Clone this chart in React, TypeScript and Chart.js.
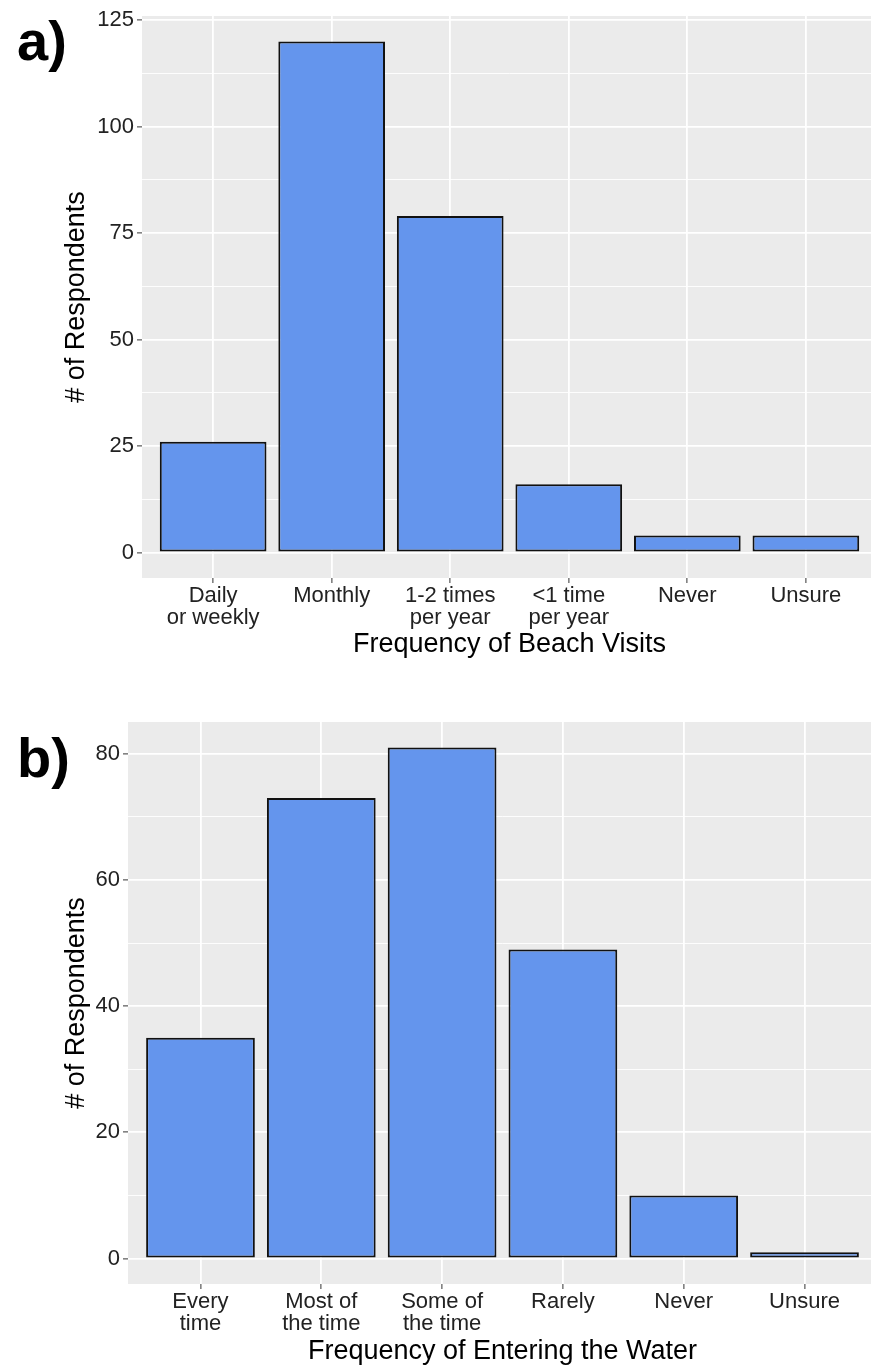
import React, { useEffect, useRef } from "react";
import { Chart, registerables } from "chart.js";

Chart.register(...registerables);

const FONT = '"Liberation Sans", Arial, Helvetica, sans-serif';

// ---- data: panel a ----
const beachCategories: string[][] = [
  ["Daily", "or weekly"],
  ["Monthly"],
  ["1-2 times", "per year"],
  ["<1 time", "per year"],
  ["Never"],
  ["Unsure"],
];
const beachCounts: number[] = [26, 120, 79, 16, 4, 4];
const beachYTicks: number[] = [0, 25, 50, 75, 100, 125];
const beachXTitle = "Frequency of Beach Visits";

// ---- data: panel b ----
const waterCategories: string[][] = [
  ["Every", "time"],
  ["Most of", "the time"],
  ["Some of", "the time"],
  ["Rarely"],
  ["Never"],
  ["Unsure"],
];
const waterCounts: number[] = [35, 73, 81, 49, 10, 1];
const waterYTicks: number[] = [0, 20, 40, 60, 80];
const waterXTitle = "Frequency of Entering the Water";

const yTitle = "# of Respondents";

const panelBg = {
  id: "panelBg",
  beforeDraw(chart: any) {
    const { ctx, chartArea: a } = chart;
    ctx.save();
    ctx.fillStyle = "#EBEBEB";
    ctx.fillRect(a.left, a.top, a.right - a.left, a.bottom - a.top);
    ctx.restore();
  },
};

const tagLabel = {
  id: "tagLabel",
  afterDraw(chart: any, _args: any, opts: any) {
    if (!opts || !opts.text) return;
    const { ctx } = chart;
    ctx.save();
    ctx.fillStyle = "#000";
    ctx.font = `bold ${opts.size}px ${FONT}`;
    ctx.textAlign = "left";
    ctx.textBaseline = "alphabetic";
    ctx.fillText(opts.text, opts.x, opts.y);
    ctx.restore();
  },
};

type Geom = {
  width: number;
  height: number;
  areaLeft: number;
  areaTop: number;
  areaBottom: number;
  areaRight: number;
  xTitlePad: number;
  tagY: number;
};

function Panel(props: {
  tag: string;
  categories: string[][];
  counts: number[];
  majorTicks: number[];
  xTitle: string;
  geom: Geom;
}) {
  const ref = useRef<HTMLCanvasElement | null>(null);
  const { tag, categories, counts, majorTicks, xTitle, geom } = props;

  useEffect(() => {
    if (!ref.current) return;
    const maxV = Math.max(...counts);
    const exp = maxV * 0.05;
    const minors: number[] = [];
    for (let i = 0; i < majorTicks.length - 1; i++) {
      minors.push((majorTicks[i] + majorTicks[i + 1]) / 2);
    }
    const isMajor = (v: number) => majorTicks.includes(v);
    const yAll = [...majorTicks, ...minors].sort((a, b) => a - b);
    const n = categories.length;

    const chart = new Chart(ref.current, {
      type: "bar",
      data: {
        datasets: [
          {
            data: counts.map((v, i) => ({ x: i, y: v })),
            backgroundColor: "#6495ED",
            borderColor: "#111111",
            borderWidth: 2,
            borderSkipped: false,
            barPercentage: 0.9,
            categoryPercentage: 1.0,
          },
        ],
      },
      options: {
        responsive: false,
        animation: false,
        devicePixelRatio: 1,
        layout: {
          padding: {
            top: geom.areaTop,
            right: geom.width - geom.areaRight,
            bottom: 0,
            left: 0,
          },
        },
        plugins: {
          legend: { display: false },
          tooltip: { enabled: false },
          tagLabel: { text: tag, x: 17, y: geom.tagY, size: 56 },
        } as any,
        scales: {
          x: {
            type: "linear",
            min: -0.6,
            max: n - 1 + 0.6,
            offset: false,
            afterBuildTicks: (s: any) => {
              s.ticks = categories.map((_, i) => ({ value: i }));
            },
            afterFit: (s: any) => {
              s.height = geom.height - geom.areaBottom;
            },
            ticks: {
              autoSkip: false,
              maxRotation: 0,
              minRotation: 0,
              padding: 1,
              color: "#222222",
              font: { family: FONT, size: 22, lineHeight: 1.04 },
              callback: (v: any) => categories[v] ?? "",
            },
            grid: {
              offset: false,
              color: "#FFFFFF",
              lineWidth: 1.8,
              drawTicks: true,
              tickLength: 5,
              tickColor: "#333333",
              tickWidth: 1,
            },
            border: { display: false },
            title: {
              display: true,
              text: xTitle,
              color: "#000",
              font: { family: FONT, size: 27, lineHeight: 1.2 },
              padding: { top: 0, bottom: geom.xTitlePad },
            },
          },
          y: {
            type: "linear",
            min: -exp,
            max: maxV + exp,
            afterBuildTicks: (s: any) => {
              s.ticks = yAll.map((v) => ({ value: v }));
            },
            afterFit: (s: any) => {
              s.width = geom.areaLeft;
            },
            ticks: {
              autoSkip: false,
              padding: 3,
              color: "#222222",
              font: { family: FONT, size: 22, lineHeight: 1.04 },
              callback: (v: any) => (isMajor(v) ? String(v) : ""),
            },
            grid: {
              color: "#FFFFFF",
              lineWidth: (c: any) => (isMajor(c.tick.value) ? 1.8 : 0.9),
              drawTicks: true,
              tickLength: 5,
              tickColor: (c: any) =>
                isMajor(c.tick.value) ? "#333333" : "rgba(0,0,0,0)",
              tickWidth: 1,
            },
            border: { display: false },
            title: {
              display: true,
              text: yTitle,
              color: "#000",
              font: { family: FONT, size: 27, lineHeight: 1.2 },
              padding: { top: 60, bottom: 0 },
            },
          },
        },
      },
      plugins: [panelBg, tagLabel],
    } as any);

    return () => chart.destroy();
  }, []);

  return (
    <canvas
      ref={ref}
      width={geom.width}
      height={geom.height}
      style={{ display: "block", width: geom.width, height: geom.height }}
    />
  );
}

export default function App() {
  return (
    <div
      style={{
        position: "fixed",
        left: 0,
        top: 0,
        width: 871,
        height: 1368,
        overflow: "hidden",
        background: "#FFFFFF",
      }}
    >
      <div style={{ position: "absolute", left: 0, top: 0 }}>
        <Panel
          tag="a)"
          categories={beachCategories}
          counts={beachCounts}
          majorTicks={beachYTicks}
          xTitle={beachXTitle}
          geom={{
            width: 880,
            height: 684,
            areaLeft: 142,
            areaTop: 16,
            areaBottom: 578,
            areaRight: 877,
            xTitlePad: 23,
            tagY: 60,
          }}
        />
      </div>
      <div style={{ position: "absolute", left: 0, top: 684 }}>
        <Panel
          tag="b)"
          categories={waterCategories}
          counts={waterCounts}
          majorTicks={waterYTicks}
          xTitle={waterXTitle}
          geom={{
            width: 880,
            height: 684,
            areaLeft: 128,
            areaTop: 38,
            areaBottom: 600,
            areaRight: 877,
            xTitlePad: 0,
            tagY: 93,
          }}
        />
      </div>
    </div>
  );
}
